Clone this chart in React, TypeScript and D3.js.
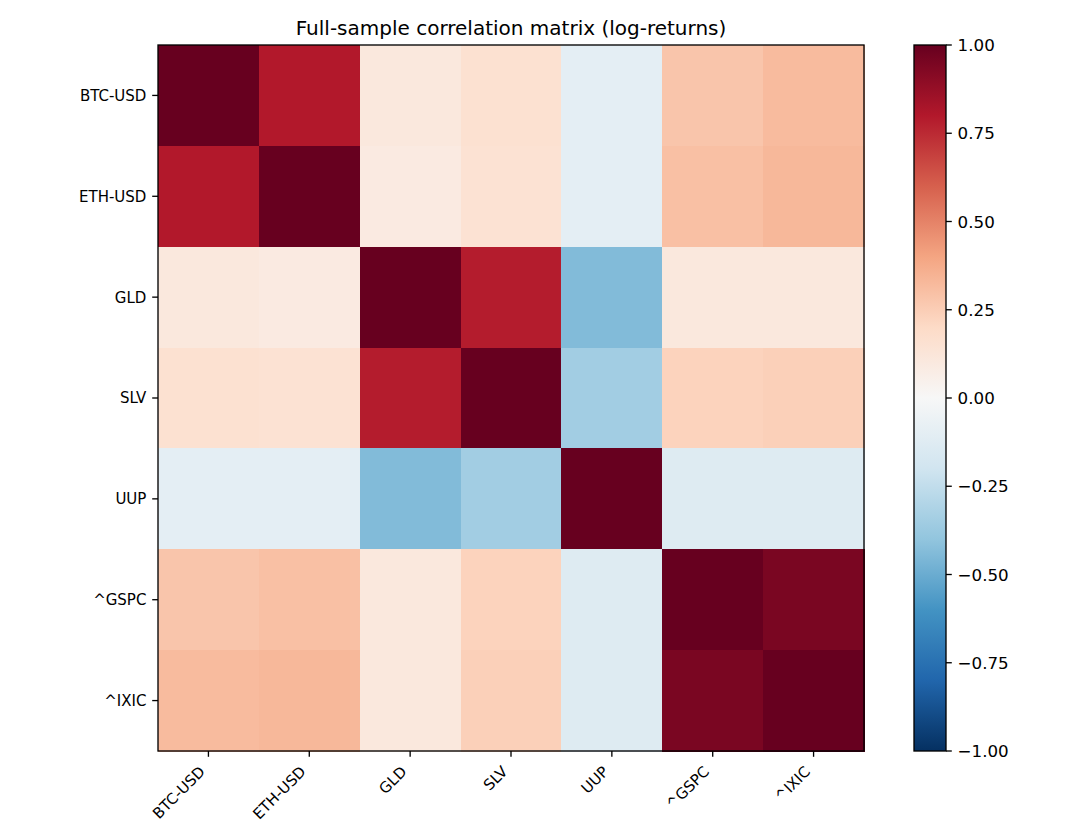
import React, { useRef, useEffect } from 'react';
import * as d3 from 'd3';

// tickers, same order on both axes
const assets = ['BTC-USD', 'ETH-USD', 'GLD', 'SLV', 'UUP', '^GSPC', '^IXIC'];

// pairwise correlations of daily log-returns
const btcRow = [1.0, 0.8, 0.11, 0.16, -0.1, 0.28, 0.32];
const ethRow = [0.8, 1.0, 0.09, 0.15, -0.1, 0.3, 0.33];
const gldRow = [0.11, 0.09, 1.0, 0.79, -0.44, 0.11, 0.11];
const slvRow = [0.16, 0.15, 0.79, 1.0, -0.35, 0.23, 0.24];
const uupRow = [-0.1, -0.1, -0.44, -0.35, 1.0, -0.13, -0.13];
const gspcRow = [0.28, 0.3, 0.11, 0.23, -0.13, 1.0, 0.95];
const ixicRow = [0.32, 0.33, 0.11, 0.24, -0.13, 0.95, 1.0];
const corrRows = [btcRow, ethRow, gldRow, slvRow, uupRow, gspcRow, ixicRow];

const cbarTicks = [1, 0.75, 0.5, 0.25, 0, -0.25, -0.5, -0.75, -1];

// RdBu (reversed): +1 dark red, -1 dark blue
const rdbu = ['#67001f', '#b2182b', '#d6604d', '#f4a582', '#fddbc7', '#f7f7f7',
  '#d1e5f0', '#92c5de', '#4393c3', '#2166ac', '#053061'];

const FONT = 'DejaVu Sans, sans-serif';
const TICK = 5.8; // tick length / pad
const LW = 1.33;

function CorrHeatmap() {
  const svgRef = useRef<SVGSVGElement | null>(null);

  useEffect(() => {
    const width = 1080;
    const height = 840;
    const plot = { left: 158, right: 864, top: 45, bottom: 751 };
    const cbar = { left: 914, right: 946 };

    const svg = d3.select(svgRef.current)
      .attr('width', width)
      .attr('height', height);
    svg.selectAll('*').remove();

    const color = d3.scaleLinear<string>()
      .domain(d3.range(11).map(i => 1 - i * 0.2))
      .range(rdbu)
      .interpolate(d3.interpolateRgb)
      .clamp(true);

    const x = d3.scaleBand().domain(assets).range([plot.left, plot.right]);
    const y = d3.scaleBand().domain(assets).range([plot.top, plot.bottom]);

    const cells = corrRows.flatMap((row, i) =>
      row.map((v, j) => ({ r: assets[i], c: assets[j], v })));

    svg.append('g')
      .selectAll('rect')
      .data(cells)
      .enter()
      .append('rect')
      .attr('x', d => x(d.c)!)
      .attr('y', d => y(d.r)!)
      .attr('width', x.bandwidth() + 0.5)
      .attr('height', y.bandwidth() + 0.5)
      .attr('fill', d => color(d.v))
      .attr('shape-rendering', 'crispEdges');

    svg.append('rect')
      .attr('x', plot.left)
      .attr('y', plot.top)
      .attr('width', plot.right - plot.left)
      .attr('height', plot.bottom - plot.top)
      .attr('fill', 'none')
      .attr('stroke', '#000')
      .attr('stroke-width', LW);

    // y axis ticks + labels
    const yAxis = svg.append('g');
    assets.forEach(a => {
      const cy = y(a)! + y.bandwidth() / 2;
      yAxis.append('line')
        .attr('x1', plot.left - TICK).attr('x2', plot.left)
        .attr('y1', cy).attr('y2', cy)
        .attr('stroke', '#000').attr('stroke-width', LW);
      yAxis.append('text')
        .attr('x', plot.left - 2 * TICK)
        .attr('y', cy)
        .attr('dy', '0.36em')
        .attr('text-anchor', 'end')
        .style('font-family', FONT)
        .style('font-size', '15px')
        .text(a);
    });

    // x axis ticks + rotated labels (right-aligned at the tick)
    const xAxis = svg.append('g');
    assets.forEach(a => {
      const cx = x(a)! + x.bandwidth() / 2;
      xAxis.append('line')
        .attr('x1', cx).attr('x2', cx)
        .attr('y1', plot.bottom).attr('y2', plot.bottom + TICK)
        .attr('stroke', '#000').attr('stroke-width', LW);
      xAxis.append('text')
        .attr('transform', `translate(${cx - 2.5},${plot.bottom + 21.6}) rotate(-45)`)
        .attr('text-anchor', 'end')
        .style('font-family', FONT)
        .style('font-size', '15px')
        .text(a);
    });

    // title
    svg.append('text')
      .attr('x', (plot.left + plot.right) / 2)
      .attr('y', 35)
      .attr('text-anchor', 'middle')
      .style('font-family', FONT)
      .style('font-size', '20px')
      .text('Full-sample correlation matrix (log-returns)');

    // colorbar
    const grad = svg.append('defs').append('linearGradient')
      .attr('id', 'cbar-grad')
      .attr('x1', 0).attr('y1', 0).attr('x2', 0).attr('y2', 1);
    rdbu.forEach((c, i) => {
      grad.append('stop')
        .attr('offset', `${i * 10}%`)
        .attr('stop-color', c);
    });

    const cy = d3.scaleLinear().domain([1, -1]).range([plot.top, plot.bottom]);

    svg.append('rect')
      .attr('x', cbar.left)
      .attr('y', plot.top)
      .attr('width', cbar.right - cbar.left)
      .attr('height', plot.bottom - plot.top)
      .attr('fill', 'url(#cbar-grad)')
      .attr('stroke', '#000')
      .attr('stroke-width', LW);

    const fmt = d3.format('.2f');
    const cAxis = svg.append('g');
    cbarTicks.forEach(t => {
      cAxis.append('line')
        .attr('x1', cbar.right).attr('x2', cbar.right + TICK)
        .attr('y1', cy(t)).attr('y2', cy(t))
        .attr('stroke', '#000').attr('stroke-width', LW);
      cAxis.append('text')
        .attr('x', cbar.right + 2 * TICK)
        .attr('y', cy(t))
        .attr('dy', '0.36em')
        .style('font-family', FONT)
        .style('font-size', '16.7px')
        .text(fmt(t).replace('-', '\u2212'));
    });
  }, []);

  return <svg ref={svgRef} style={{ position: 'absolute', left: 0, top: 0, background: '#fff' }}></svg>;
}

export default function App() {
  return <CorrHeatmap />;
}
